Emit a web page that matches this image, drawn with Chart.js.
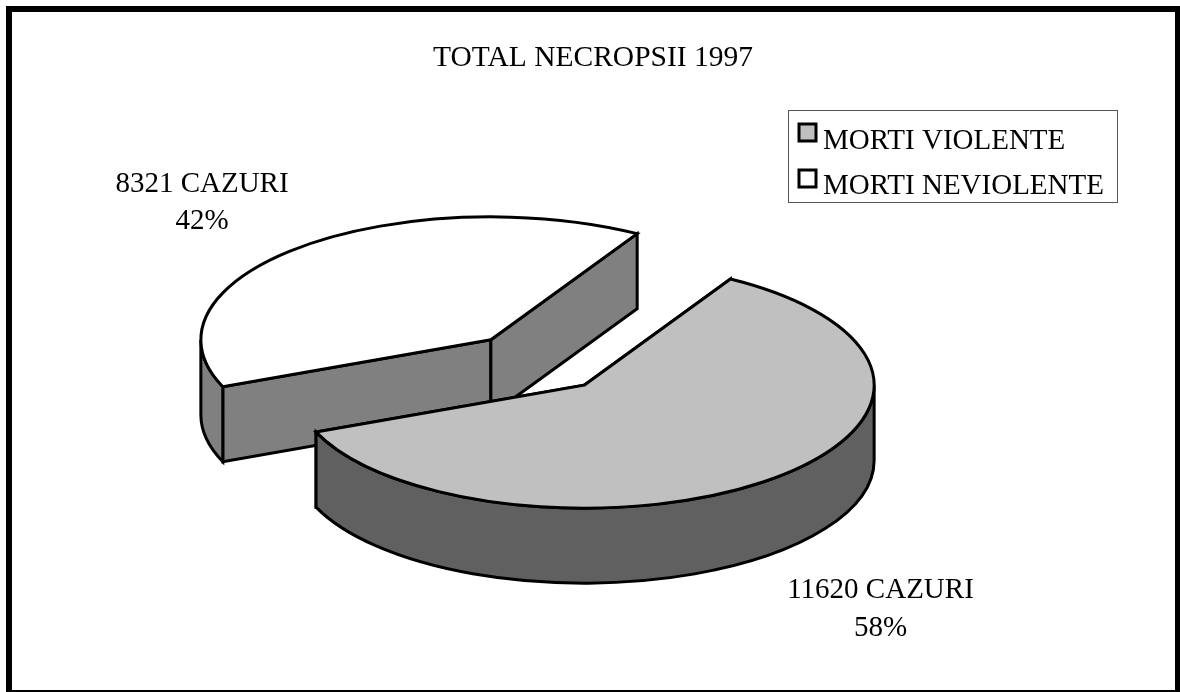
<!DOCTYPE html>
<html>
<head>
<meta charset="utf-8">
<style>html,body{margin:0;padding:0;background:#fff}canvas{display:block}</style>
<script src="https://cdn.jsdelivr.net/npm/chart.js@4"></script>
</head>
<body>
<canvas id="c" width="1180" height="692"></canvas>
<script>
const categories = ['MORTI VIOLENTE', 'MORTI NEVIOLENTE'];
const caseCounts = [11620, 8321];
const caseLabels = ['11620 CAZURI', '8321 CAZURI'];
const percentLabels = ['58%', '42%'];
const topColors = ['#c0c0c0', '#ffffff'];
const sideColors = ['#606060', '#808080'];
const titleText = 'TOTAL NECROPSII 1997';

const SERIF = '"Liberation Serif","Times New Roman",serif';
const view = {tx: 537.5, ty: 362.5, k: 0.424, depth: 75, skew: 3.75 * Math.PI / 180, explode: 71, radius: 290, cx: 0, cy: 0};

function applyView(ctx, drop) {
  ctx.translate(view.tx, view.ty + (drop || 0));
  ctx.scale(1, view.k);
  ctx.translate(-view.cx, -view.cy);
}
function rim(arc, a) { return [arc.x + Math.cos(a) * arc.outerRadius, arc.y + Math.sin(a) * arc.outerRadius]; }

function strokeStyle(ctx) {
  ctx.strokeStyle = '#000'; ctx.lineWidth = 3; ctx.lineJoin = 'miter'; ctx.miterLimit = 3;
}
function radialFace(ctx, arc, a, color) {
  const p = rim(arc, a);
  ctx.beginPath();
  ctx.save(); applyView(ctx, 0); ctx.moveTo(arc.x, arc.y); ctx.lineTo(p[0], p[1]); ctx.restore();
  ctx.save(); applyView(ctx, view.depth); ctx.lineTo(p[0], p[1]); ctx.lineTo(arc.x, arc.y); ctx.restore();
  ctx.closePath();
  ctx.fillStyle = color; ctx.fill(); strokeStyle(ctx); ctx.stroke();
}
function outerWall(ctx, arc, color) {
  const a0 = Math.max(arc.startAngle, 0), a1 = Math.min(arc.endAngle, Math.PI);
  if (a1 <= a0) return;
  ctx.beginPath();
  ctx.save(); applyView(ctx, 0); ctx.arc(arc.x, arc.y, arc.outerRadius, a0, a1); ctx.restore();
  ctx.save(); applyView(ctx, view.depth); ctx.arc(arc.x, arc.y, arc.outerRadius, a1, a0, true); ctx.restore();
  ctx.closePath();
  ctx.fillStyle = color; ctx.fill(); strokeStyle(ctx); ctx.stroke();
}

const pie3d = {
  id: 'pie3d',
  beforeDraw(chart) {
    const c = chart.ctx;
    c.save();
    c.fillStyle = '#fff'; c.fillRect(0, 0, 1180, 692);
    c.fillStyle = '#000'; c.fillRect(6, 6, 1174, 686);
    c.fillStyle = '#fff'; c.fillRect(12, 12, 1163, 678);
    c.restore();
  },
  afterDatasetsUpdate(chart) {
    const arcs = chart.getDatasetMeta(0).data;
    const shift = [-view.skew, view.skew];
    view.cx = arcs[0].x; view.cy = arcs[0].y;
    arcs.forEach((arc, i) => {
      const mid = (arc.startAngle + arc.endAngle) / 2;
      arc.x += Math.cos(mid) * view.explode;
      arc.y += Math.sin(mid) * view.explode;
      arc.startAngle += shift[i];
      arc.endAngle += shift[(i + 1) % arcs.length];
      arc.circumference = arc.endAngle - arc.startAngle;
    });
  },
  beforeDatasetsDraw(chart) {
    const c = chart.ctx, arcs = chart.getDatasetMeta(0).data;
    c.save();
    [1, 0].forEach(i => {
      const arc = arcs[i];
      radialFace(c, arc, arc.startAngle, sideColors[i]);
      radialFace(c, arc, arc.endAngle, sideColors[i]);
      outerWall(c, arc, sideColors[i]);
    });
    c.restore();
    c.save();
    applyView(c, 0);
  },
  afterDatasetsDraw(chart) {
    const c = chart.ctx, arcs = chart.getDatasetMeta(0).data;
    c.restore();
    c.save();
    arcs.forEach(arc => {
      c.beginPath();
      c.save(); applyView(c, 0);
      c.moveTo(arc.x, arc.y);
      c.arc(arc.x, arc.y, arc.outerRadius, arc.startAngle, arc.endAngle);
      c.closePath();
      c.restore();
      strokeStyle(c); c.stroke();
    });
    c.restore();
    drawLabels(c);
    drawLegend(c);
  }
};

function drawLabels(c) {
  c.save();
  c.fillStyle = '#000';
  c.font = '29px ' + SERIF;
  c.textAlign = 'center';
  c.textBaseline = 'alphabetic';
  const spots = [[880.5, 598, 636], [202, 192, 229]];
  spots.forEach((s, i) => {
    c.fillText(caseLabels[i], s[0], s[1]);
    c.fillText(percentLabels[i], s[0], s[2]);
  });
  c.restore();
}
function drawLegend(c) {
  c.save();
  c.fillStyle = '#fff'; c.fillRect(789, 111, 329, 91);
  c.strokeStyle = '#555'; c.lineWidth = 1; c.strokeRect(788.5, 110.5, 329, 92);
  c.font = '29px ' + SERIF; c.textBaseline = 'alphabetic'; c.textAlign = 'left';
  const rows = [[124, 149], [170, 194]];
  categories.forEach((name, i) => {
    c.fillStyle = topColors[i];
    c.fillRect(799, rows[i][0], 17, 17);
    c.strokeStyle = '#000'; c.lineWidth = 3;
    c.strokeRect(799, rows[i][0], 17, 17);
    c.fillStyle = '#000';
    c.fillText(name, 823, rows[i][1]);
  });
  c.restore();
}

new Chart(document.getElementById('c'), {
  type: 'pie',
  data: {
    labels: categories,
    datasets: [{
      data: caseCounts,
      backgroundColor: topColors,
      borderWidth: 0,
      clip: false
    }]
  },
  options: {
    responsive: false,
    animation: false,
    rotation: 34.05,
    radius: view.radius,
    layout: {padding: {left: 6}},
    plugins: {
      legend: {display: false},
      tooltip: {enabled: false},
      title: {
        display: true,
        text: titleText,
        color: '#000',
        font: {family: SERIF, size: 29.5, weight: 'normal'},
        padding: {top: 41, bottom: 10}
      }
    }
  },
  plugins: [pie3d]
});
</script>
</body>
</html>
